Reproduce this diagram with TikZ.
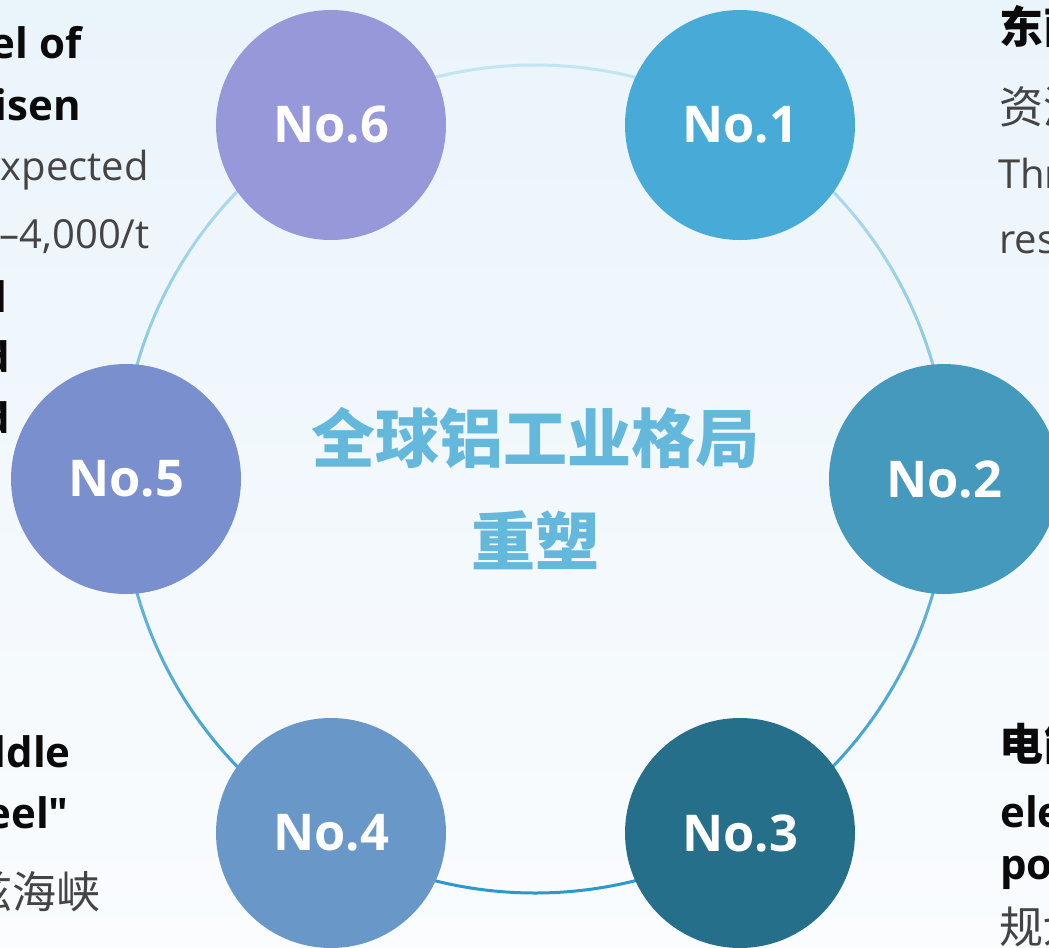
\documentclass[tikz,border=0pt]{standalone}
\usepackage{fontspec}
\setmainfont{Noto Sans CJK SC}
\newfontfamily\latinf{Open Sans}
\usetikzlibrary{calc}
\definecolor{bgtop}{HTML}{EAF4FB}
\definecolor{bgbot}{HTML}{FAFCFE}
\definecolor{ringtop}{HTML}{C2E5F2}
\definecolor{ringbot}{HTML}{2B97C9}
\definecolor{cA}{HTML}{48ABD7}
\definecolor{cB}{HTML}{4499BC}
\definecolor{cC}{HTML}{266F8B}
\definecolor{cD}{HTML}{6897C8}
\definecolor{cE}{HTML}{7A8FCE}
\definecolor{cF}{HTML}{9698D9}
\definecolor{titlec}{HTML}{64B8DC}
\definecolor{grayt}{HTML}{444444}
\definecolor{blackt}{HTML}{0A0A0A}
\tikzset{
  numc/.style={circle, inner sep=0pt, minimum size=172.5pt, text=white,
    font=\latinf\fontsize{38}{38}\selectfont\bfseries},
  boldt/.style={inner sep=0pt, text=blackt, font=\latinf\fontsize{31.5}{31.5}\selectfont\bfseries},
  boldcjk/.style={inner sep=0pt, text=blackt, font=\fontsize{33}{33}\selectfont\bfseries},
  grayl/.style={inner sep=0pt, text=grayt, font=\latinf\fontsize{30}{30}\selectfont},
  graycjk/.style={inner sep=0pt, text=grayt, font=\fontsize{33}{33}\selectfont},
}
\begin{document}
\begin{tikzpicture}[x=0.75pt,y=-0.75pt]
\path[use as bounding box, top color=bgtop, bottom color=bgbot] (0,0) rectangle (1049,947);
\begin{scope}
\clip (0,0) rectangle (1049,947);
\coordinate (C) at (535,479);
% ring with vertical colour gradient
\foreach \a in {0,3,...,357}{
  \pgfmathtruncatemacro\t{50+50*sin(\a+1.5)}
  \draw[line width=2.25pt, color=ringbot!\t!ringtop, line cap=round]
    ($(C)+(\a:414)$) arc[start angle=\a, end angle=\a+3, radius=414];
}
% title
\node[text=titlec, font=\fontsize{48}{48}\selectfont\bfseries, anchor=center] (title) at (535,438) {全球铝工业格局};
\node[text=titlec, font=\fontsize{48}{48}\selectfont\bfseries, anchor=center] (title2) at (535,540) {重塑};
% number circles
\node[numc, fill=cA] (n1) at (740,125) {No.1};
\node[numc, fill=cB] (n2) at (944,479) {No.2};
\node[numc, fill=cC] (n3) at (740,833) {No.3};
\node[numc, fill=cD] (n4) at (331,833) {No.4};
\node[numc, fill=cE] (n5) at (126,479) {No.5};
\node[numc, fill=cF] (n6) at (331,125) {No.6};
% left side texts (clipped at left border)
\node[boldt, anchor=base east] (l1) at (82,58) {el of};
\node[boldt, anchor=base east] (l2) at (81,120) {isen};
\node[grayl, anchor=base east] (l3) at (149,180) {xpected};
\node[grayl, anchor=base east] (l4) at (150,248) {–4,000/t};
\node[boldt, anchor=base east] (l5) at (8,312) {l};
\node[boldt, anchor=base east] (l6) at (10,372) {d};
\node[boldt, anchor=base east] (l7) at (10,433) {d};
% bottom-left texts
\node[boldt, anchor=base east] (b1) at (71,767) {ldle};
\node[boldt, anchor=base east] (b2) at (69,828) {eel\char"22};
\node[graycjk, anchor=base east] (b3) at (101,908) {兹海峡};
% right side texts (clipped at right border)
\node[boldcjk, anchor=base west] (r1) at (999,43) {东南};
\node[graycjk, anchor=base west] (r2) at (999,123) {资源};
\node[grayl, anchor=base west] (r3) at (998,188) {Thr};
\node[grayl, anchor=base west] (r4) at (999,253) {res};
% bottom-right texts
\node[boldcjk, anchor=base west] (s1) at (999,760) {电能};
\node[boldt, anchor=base west] (s2) at (1000,827) {ele};
\node[boldt, anchor=base west] (s3) at (1000,879) {po};
\node[graycjk, anchor=base west] (s4) at (999,943) {规划};
\end{scope}
\end{tikzpicture}
\end{document}
